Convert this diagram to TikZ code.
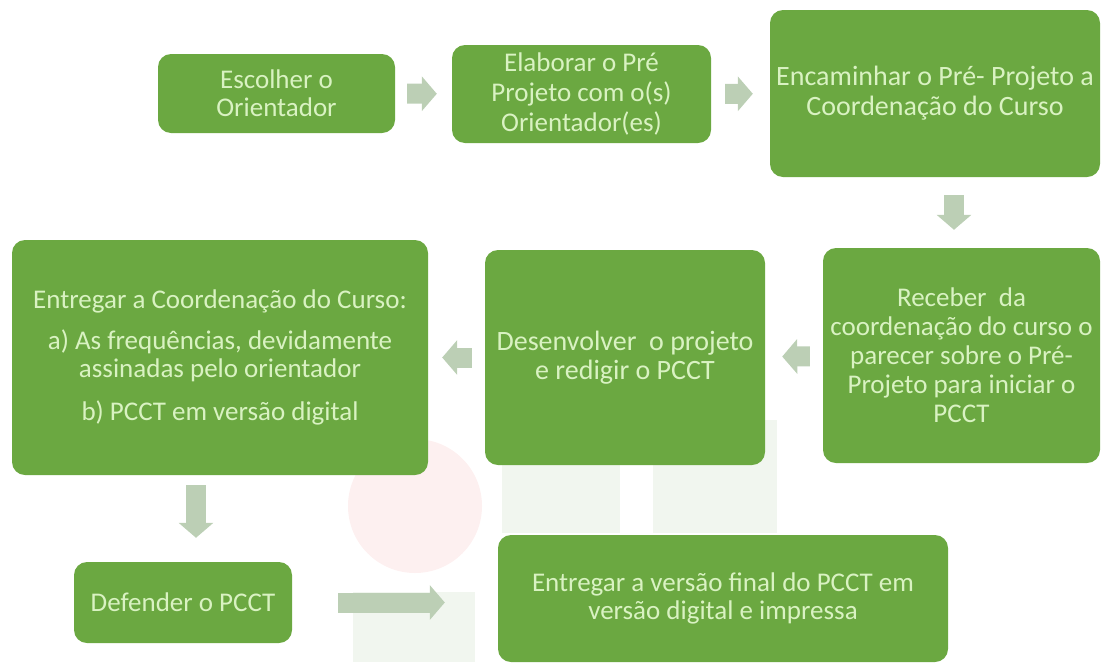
\documentclass[tikz,border=0pt]{standalone}
\usepackage{fontspec}
\setmainfont{Carlito}
\usetikzlibrary{arrows.meta}

\definecolor{boxgreen}{HTML}{6BA841}
\definecolor{boxtext}{HTML}{D9F2C2}
\definecolor{arrowgrey}{HTML}{BCCFB5}
\definecolor{markpink}{HTML}{FDF0F0}
\definecolor{markgreen}{HTML}{F1F6EF}

\tikzset{
  stepbox/.style={fill=boxgreen, rounded corners=13pt, text=boxtext, align=center,
    inner sep=0pt, font=\fontsize{27}{29}\selectfont},
  flowarrow/.style={arrowgrey, line width=20pt, shorten <=13pt, shorten >=15pt,
    -{Triangle[length=15pt,width=34pt]}}
}

\begin{document}
\begin{tikzpicture}[x=1pt,y=1pt,yscale=-1,xscale=1]
\useasboundingbox (0,0) rectangle (1102,662);

%Watermark
\fill[markpink] (415,506) circle (67);
\fill[markgreen] (502,420) rectangle (620,533);
\fill[markgreen] (653,420) rectangle (777,533);
\fill[markgreen] (353,592) rectangle (475,662);

% Step boxes
\node[stepbox, minimum width=237, minimum height=79, font=\fontsize{27}{28}\selectfont] (orient) at (276.5,93.5)
  {Escolher o\\Orientador};
\node[stepbox, minimum width=259, minimum height=98, font=\fontsize{27}{30}\selectfont] (preproj) at (581.5,94)
  {Elaborar o Pré\\Projeto com o(s)\\Orientador(es)};
\node[stepbox, minimum width=330, minimum height=167, font=\fontsize{28}{30}\selectfont] (encam) at (935,93.5)
  {Encaminhar o Pré- Projeto a\\Coordenação do Curso};
\node[stepbox, minimum width=277, minimum height=215] (receber) at (961.5,355.5)
  {Receber~ da\\coordenação do curso o\\parecer sobre o Pré-\\Projeto para iniciar o\\PCCT};
\node[stepbox, minimum width=280, minimum height=215, font=\fontsize{28}{29}\selectfont] (desenv) at (625,357.5)
  {Desenvolver~ o projeto\\e redigir o PCCT};
\node[stepbox, minimum width=416, minimum height=235, font=\fontsize{27}{28}\selectfont] (entcoord) at (220,357.5)
  {Entregar a Coordenação do Curso:\\[13pt]a) As frequências, devidamente\\assinadas pelo orientador\\[15pt]b) PCCT em versão digital};
\node[stepbox, minimum width=218, minimum height=81] (defender) at (183,602.5)
  {Defender o PCCT};
\node[stepbox, minimum width=450, minimum height=127, font=\fontsize{27}{28}\selectfont] (entfinal) at (723,598.5)
  {Entregar a versão final do PCCT em\\versão digital e impressa};

% Arrows
\draw[flowarrow, shorten <=12pt] (orient) -- (preproj);
\draw[flowarrow, shorten <=14pt, shorten >=17pt] (preproj) -- (encam);
\draw[flowarrow, shorten <=18pt, shorten >=18pt] ([xshift=19pt]encam.south) -- ([xshift=-7.5pt]receber.north);
\draw[flowarrow, shorten >=17pt] (receber) -- (desenv);
\draw[flowarrow, shorten >=14pt] (desenv) -- (entcoord);
\draw[flowarrow, shorten <=10pt, shorten >=24pt] ([xshift=-24pt]entcoord.south) -- ([xshift=13pt]defender.north);
\draw[flowarrow, shorten <=46pt, shorten >=53pt] (defender.east) -- (defender.east -| entfinal.west);

\end{tikzpicture}
\end{document}
